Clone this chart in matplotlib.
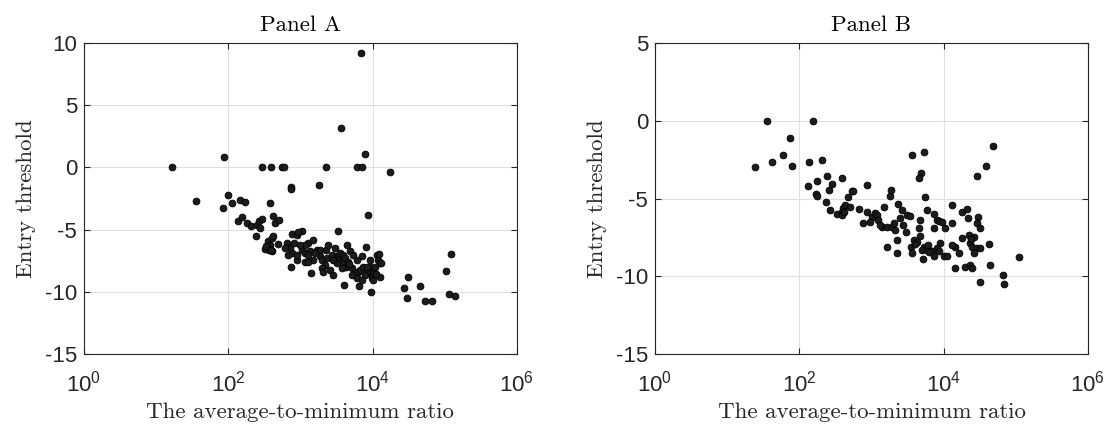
import numpy as np
import matplotlib.pyplot as plt
from matplotlib.ticker import FixedLocator, FixedFormatter, NullLocator

plt.rcParams['mathtext.fontset'] = 'custom'
plt.rcParams['mathtext.rm'] = 'Liberation Sans'
plt.rcParams['mathtext.it'] = 'Liberation Sans'

# log10 of the average-to-minimum ratio, and the entry threshold
a_log_ratio = [1.215, 1.552, 1.94, 1.926, 1.995, 2.05, 2.166, 2.236, 2.467, 2.592,
               2.739, 2.771, 2.864, 2.864, 3.252, 3.353, 3.561, 3.79, 3.86, 3.838,
               3.894, 4.24, 2.577, 3.935,
               4.434, 4.49, 4.476, 4.656, 4.725, 4.82, 5.016, 5.08, 5.058, 5.145,
               2.139, 2.194, 2.254, 2.31, 2.393, 2.43, 2.47, 2.44, 2.383, 2.62,
               2.646, 2.707,
               2.878, 2.947, 3.016, 2.97, 3.515,
               2.554, 2.6, 2.577, 2.53, 2.62, 2.508, 2.568, 2.6, 2.693,
               2.808, 2.855, 2.91, 2.877, 2.831, 2.864, 2.947, 3.016, 3.062, 3.062,
               3.108, 3.132, 3.178, 3.108, 3.178, 3.145,
               3.224, 3.27, 3.293, 3.353, 3.386, 3.34, 3.293, 3.409, 3.316, 3.446,
               3.478, 3.501, 3.524, 3.547, 3.57, 3.594, 3.617, 3.64, 3.63, 3.686,
               3.732, 3.709, 3.778, 3.755, 3.801, 3.824, 3.848, 3.903, 3.917, 3.94,
               3.963, 3.986, 4.009, 4.055, 4.079, 4.102, 4.102, 4.009, 3.778, 3.815,
               3.603, 3.977, 3.894, 3.848,
               3.501, 3.57, 3.663, 3.363, 3.432, 3.455, 3.709, 3.871, 3.963, 4.032,
               3.062, 2.993, 2.785, 3.27, 3.108, 2.947, 4.083, 4.11,
               2.52, 2.59, 3.2, 3.68, 3.92, 4.05]
a_threshold = [0.0, -2.7, 0.8, -3.3, -2.22, -2.87, -2.6, -2.79, 0.0, 0.0,
               0.0, 0.0, -1.6, -1.74, -1.42, 0.0, 3.16, 0.0, 0.0, 9.2,
               1.07, -0.38, -2.87, -3.86,
               -9.7, -8.77, -10.5, -9.5, -10.7, -10.7, -8.36, -6.97, -10.16, -10.37,
               -4.32, -3.97, -4.46, -4.73, -4.6, -4.32, -4.14, -4.86, -5.49, -3.92,
               -4.46, -4.24,
               -5.35, -5.41, -5.14, -5.22, -5.14,
               -5.95, -5.68, -6.22, -6.49, -5.49, -6.57, -6.62, -6.76, -6.14,
               -6.08, -6.49, -6.08, -6.89, -7.03, -7.97, -7.43, -6.62, -6.89, -7.57,
               -6.08, -6.76, -5.81, -7.03, -7.43, -8.46,
               -6.62, -7.16, -7.43, -6.62, -6.22, -7.84, -8.11, -8.24, -8.38, -8.65,
               -6.49, -7.16, -7.43, -6.89, -7.57, -7.03, -7.3, -6.22, -7.97, -6.76,
               -7.03, -8.11, -7.43, -8.51, -8.38, -8.24, -7.16, -6.41, -8.51, -8.24,
               -7.43, -8.92, -8.38, -7.03, -7.43, -7.7, -8.84, -9.05, -8.92, -9.54,
               -9.49, -10.05, -8.65, -9.05,
               -7.7, -8.11, -7.57, -7.3, -7.03, -7.43, -8.65, -7.97, -7.97, -7.97,
               -6.22, -6.22, -6.49, -6.62, -7.57, -7.03, -6.94, -7.69,
               -6.35, -6.6, -6.9, -7.8, -8.0, -8.6]

b_log_ratio = [1.381, 1.547, 1.617, 1.778, 1.871, 1.894, 2.185, 2.139, 2.31,
               3.56, 3.722, 3.685, 3.653, 4.684, 4.588, 4.463,
               2.125, 2.241, 2.38, 2.449, 2.417, 2.588,
               2.231, 2.25, 2.366, 2.426, 2.519, 2.588, 2.611, 2.634, 2.704, 2.681,
               2.727, 2.829, 2.944, 2.935, 2.889, 3.005, 3.051, 3.074, 3.097, 2.981,
               3.144, 3.167, 3.259, 3.269, 3.12, 3.213, 3.282, 3.306, 3.329, 3.361,
               3.389, 3.421, 3.435, 3.491, 3.537, 3.481, 3.352, 3.213, 3.352, 3.583,
               3.63, 3.653, 3.676, 3.676, 3.736, 3.769, 3.861, 3.907, 3.931, 3.977,
               3.861, 4.023, 4.116, 4.116, 4.255, 4.324, 4.333, 4.472, 4.463, 4.509,
               4.255, 4.347, 4.417, 4.37, 4.394, 4.463, 4.5, 4.625, 4.162, 4.208,
               4.116, 3.954, 3.907, 3.722, 3.699, 3.769, 3.838, 3.861, 4.0, 4.046,
               3.551, 3.56, 3.713, 4.153, 4.292, 4.37, 4.398, 4.639, 4.5,
               5.039, 4.817, 4.836, 2.59, 2.614, 2.743,
               3.78, 3.8, 3.93, 4.38, 4.42, 3.6]
b_threshold = [-3.0, 0.0, -2.68, -2.23, -1.09, -2.91, 0.0, -2.68, -2.51,
               -2.23, -2.02, -3.36, -3.68, -1.6, -2.94, -3.55,
               -4.21, -3.87, -3.57, -4.04, -4.43, -3.66,
               -4.72, -4.85, -5.21, -5.74, -6.0, -5.85, -5.64, -5.43, -5.53, -4.89,
               -4.51, -5.66, -4.11, -5.85, -6.6, -6.17, -5.96, -6.06, -6.38, -6.49,
               -6.85, -5.53, -4.85, -4.43, -6.7, -6.81, -6.81, -6.6, -7.02, -5.36,
               -6.28, -5.74, -6.7, -6.06, -6.13, -7.13, -7.66, -8.09, -8.51, -7.66,
               -7.77, -6.91, -6.38, -7.4, -4.89, -5.74, -6.0, -6.38, -6.43, -6.49,
               -6.91, -6.91, -5.43, -6.55, -5.85, -5.7, -6.28, -6.21, -6.6, -6.91,
               -7.55, -7.34, -7.45, -7.87, -8.09, -8.19, -8.19, -7.94, -8.09, -8.51,
               -7.98, -7.87, -8.19, -8.09, -8.3, -8.3, -8.4, -8.68, -8.72, -8.68,
               -8.09, -8.51, -8.89, -9.47, -9.4, -9.26, -9.47, -9.3, -10.38,
               -8.78, -9.94, -10.5, -6.06, -5.84, -4.5,
               -8.0, -8.45, -8.4, -7.6, -8.5, -7.9]

panels = [
    ('Panel A', a_log_ratio, a_threshold, [-15, -10, -5, 0, 5, 10]),
    ('Panel B', b_log_ratio, b_threshold, [-15, -10, -5, 0, 5]),
]
x_ticks = [1, 1e2, 1e4, 1e6]
x_tick_labels = ['$10^{0}$', '$10^{2}$', '$10^{4}$', '$10^{6}$']

fig = plt.figure(figsize=(11.09, 4.28), dpi=100)
lefts = [0.0757, 0.5906]
axis_color = '#262626'

for left, (title, lr, th, yt) in zip(lefts, panels):
    ax = fig.add_axes([left, 0.1729, 0.3904, 0.7266])
    ax.scatter(10 ** np.array(lr), th, s=24, facecolor='#1c1c1c',
               edgecolor='black', linewidths=0.6, zorder=3)
    ax.set_xscale('log')
    ax.set_xlim(1, 1e6)
    ax.set_ylim(yt[0], yt[-1])
    ax.xaxis.set_major_locator(FixedLocator(x_ticks))
    ax.xaxis.set_major_formatter(FixedFormatter(x_tick_labels))
    ax.xaxis.set_minor_locator(NullLocator())
    ax.yaxis.set_major_locator(FixedLocator(yt))
    ax.yaxis.set_major_formatter(FixedFormatter([str(v) for v in yt]))
    ax.grid(True, color='#e0e0e0', linewidth=0.8, zorder=0)
    ax.set_axisbelow(True)
    for sp in ax.spines.values():
        sp.set_color(axis_color)
        sp.set_linewidth(0.8)
    ax.tick_params(direction='in', length=4, width=0.8, color=axis_color,
                   top=True, right=True, labelsize=16, labelcolor='#262626')
    ax.tick_params(axis='y', pad=5)
    ax.tick_params(axis='x', pad=12)
    for lab in ax.get_xticklabels() + ax.get_yticklabels():
        lab.set_family('Liberation Sans')
    ax.set_title(title, family='cmr10', fontsize=16.5, pad=9)
    ax.set_xlabel('The average-to-minimum ratio', family='cmr10', fontsize=16.5,
                  labelpad=4, color='#262626')
    ax.set_ylabel('Entry threshold', family='cmr10', fontsize=16.5,
                  labelpad=6, color='#262626')

fig.savefig('out.png', dpi=100)
